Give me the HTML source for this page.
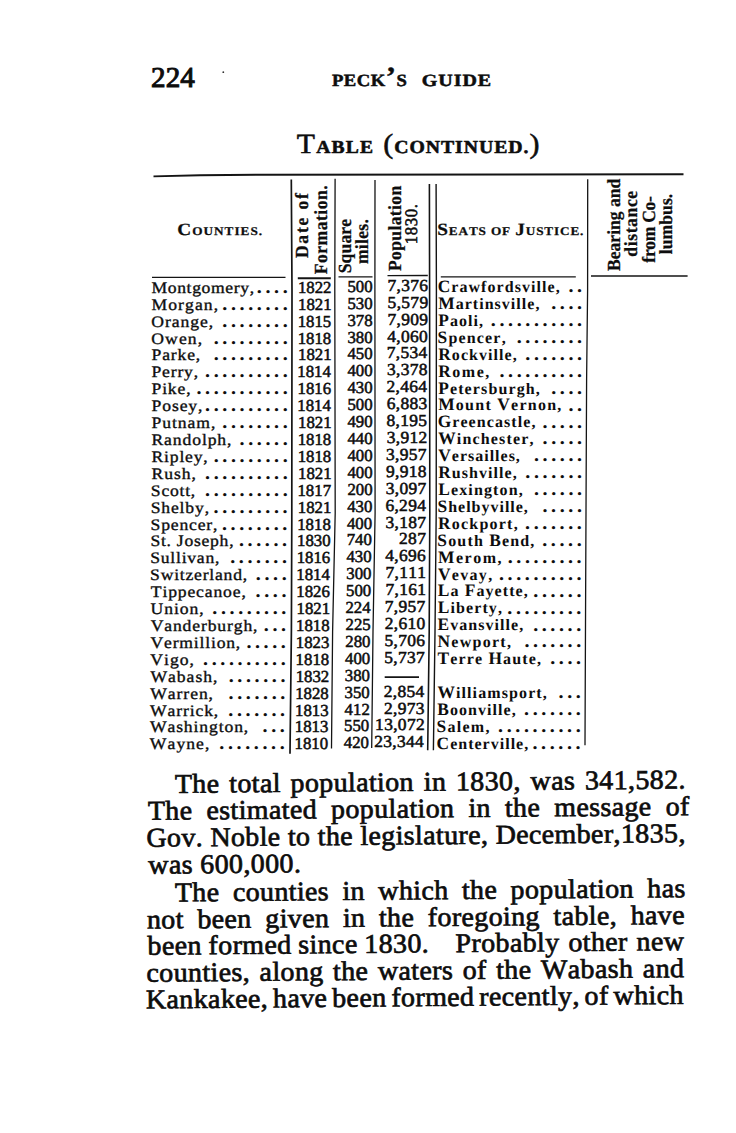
<!DOCTYPE html>
<html><head><meta charset="utf-8"><title>Peck's Guide p. 224</title>
<style>
html,body{margin:0;padding:0;background:#fff;}
body{width:736px;height:1133px;overflow:hidden;}
svg{display:block;text-rendering:geometricPrecision;}
text{font-family:"Liberation Serif","Times New Roman",serif;font-kerning:none;font-variant-ligatures:none;white-space:pre;}
</style></head><body>
<svg width="736" height="1133" viewBox="0 0 736 1133">
<rect width="736" height="1133" fill="#fff"/>
<text transform="translate(152.3 86.9) scale(1.01 1) translate(-1.27 0)" font-size="28.8" letter-spacing="0.07" stroke="#0d0d0d" stroke-width="1" fill="#0d0d0d">224</text>
<circle cx="223.3" cy="72.2" r="0.9" fill="#333"/>
<text transform="translate(332.2 86.4) scale(1.09 1) translate(-0.29 0)" letter-spacing="0.47" stroke="#0d0d0d" stroke-width="0.5" fill="#0d0d0d"><tspan font-size="17.1" font-weight="bold">PECK</tspan><tspan font-size="28" font-weight="bold">’</tspan><tspan font-size="17.1" font-weight="bold">S</tspan></text>
<text transform="translate(422.7 86.4) scale(1.17 1) translate(-0.83 0)" font-size="17.1" font-weight="bold" letter-spacing="0.83" stroke="#0d0d0d" stroke-width="0.5" fill="#0d0d0d">GUIDE</text>
<text transform="translate(297.4 152.9) scale(1.07 1) translate(-0.5 0)" letter-spacing="1.09" stroke="#0d0d0d" stroke-width="0.55" fill="#0d0d0d"><tspan font-size="27.8">T</tspan><tspan font-size="18.3" font-weight="bold">ABLE</tspan></text>
<text transform="translate(384.5 152.9) scale(1.08 1) translate(-1.22 0)" letter-spacing="0.9" stroke="#0d0d0d" stroke-width="0.55" fill="#0d0d0d"><tspan font-size="27.8">(</tspan><tspan font-size="18.3" font-weight="bold">CONTINUED.</tspan><tspan font-size="27.8">)</tspan></text>
<polyline points="153.5,176.4 200,175.3 260,174.7 683.5,174.3" fill="none" stroke="#141414" stroke-width="1.9" stroke-linejoin="round"/>
<text transform="translate(178.2 234.7) scale(1.12 1) translate(-0.84 0)" letter-spacing="0.91" stroke="#0d0d0d" stroke-width="0.25" fill="#0d0d0d"><tspan font-size="17.2" font-weight="bold">C</tspan><tspan font-size="11.8" font-weight="bold">OUNTIES.</tspan></text>
<text transform="translate(438.3 234.8) scale(1.12 1) translate(-0.92 0)" letter-spacing="0.77" stroke="#0d0d0d" stroke-width="0.25" fill="#0d0d0d"><tspan font-size="17.2" font-weight="bold">S</tspan><tspan font-size="11.8" font-weight="bold">EATS OF </tspan><tspan font-size="17.2" font-weight="bold">J</tspan><tspan font-size="11.8" font-weight="bold">USTICE.</tspan></text>
<text transform="translate(308.1 257.8) rotate(-90) scale(0.95 1) translate(-0.33 0)" font-size="18.5" font-weight="bold" letter-spacing="1.89" stroke="#0d0d0d" stroke-width="0.25" fill="#0d0d0d">Date of</text>
<text transform="translate(327 273.9) rotate(-90) scale(0.95 1) translate(-0.32 0)" font-size="18.5" font-weight="bold" letter-spacing="0.52" stroke="#0d0d0d" stroke-width="0.25" fill="#0d0d0d">Formation.</text>
<text transform="translate(351.2 272.4) rotate(-90) scale(0.95 1) translate(-0.98 0)" font-size="18.5" font-weight="bold" letter-spacing="0.14" stroke="#0d0d0d" stroke-width="0.25" fill="#0d0d0d">Square</text>
<text transform="translate(368.1 263.6) rotate(-90) scale(0.95 1) translate(-0.5 0)" font-size="18.5" font-weight="bold" letter-spacing="0.3" stroke="#0d0d0d" stroke-width="0.25" fill="#0d0d0d">miles.</text>
<text transform="translate(400.6 270.8) rotate(-90) scale(0.95 1) translate(-0.32 0)" font-size="18.5" font-weight="bold" letter-spacing="0.38" stroke="#0d0d0d" stroke-width="0.25" fill="#0d0d0d">Population</text>
<text transform="translate(416.9 242.8) rotate(-90) scale(0.95 1) translate(-1.55 0)" font-size="17.6" letter-spacing="0.7" stroke="#0d0d0d" stroke-width="0.55" fill="#0d0d0d">1830.</text>
<text transform="translate(619.8 270.7) rotate(-90) scale(0.95 1) translate(-0.31 0)" font-size="18.5" font-weight="bold" letter-spacing="0.01" stroke="#0d0d0d" stroke-width="0.25" fill="#0d0d0d">Bearing and</text>
<text transform="translate(637.2 256) rotate(-90) scale(0.95 1) translate(-0.75 0)" font-size="18.5" font-weight="bold" letter-spacing="0.65" stroke="#0d0d0d" stroke-width="0.25" fill="#0d0d0d">distance</text>
<text transform="translate(654.5 262.5) rotate(-90) scale(0.95 1) translate(-0.14 0)" font-size="18.5" font-weight="bold" letter-spacing="-0.34" stroke="#0d0d0d" stroke-width="0.25" fill="#0d0d0d">from Co-</text>
<text transform="translate(671.7 253.8) rotate(-90) scale(0.95 1) translate(-0.36 0)" font-size="18.5" font-weight="bold" letter-spacing="0.04" stroke="#0d0d0d" stroke-width="0.25" fill="#0d0d0d">lumbus.</text>
<polyline points="291.3,179.5 292,290 291.8,520 291.4,630 290,753.7" fill="none" stroke="#141414" stroke-width="1.7" stroke-linejoin="round"/>
<polyline points="335.1,178.7 334.8,290 335.2,513 332.6,632 331.5,748.5" fill="none" stroke="#141414" stroke-width="1.3" stroke-linejoin="round"/>
<polyline points="375,180 374.9,290 375.1,513 373,632 371.7,748" fill="none" stroke="#141414" stroke-width="1.3" stroke-linejoin="round"/>
<polyline points="429.4,184 429.6,290 429.8,513 429.2,632 427.7,750.3" fill="none" stroke="#141414" stroke-width="1.6" stroke-linejoin="round"/>
<polyline points="436.1,184 436.4,290 436.2,513 435,632 433.4,750.3" fill="none" stroke="#141414" stroke-width="1.4" stroke-linejoin="round"/>
<polyline points="587.7,179.3 587.6,290 586.6,380 585.6,600 585,745.2" fill="none" stroke="#141414" stroke-width="1.3" stroke-linejoin="round"/>
<polyline points="152,277.4 285.5,277.4" fill="none" stroke="#141414" stroke-width="1.2" stroke-linejoin="round"/>
<polyline points="297.8,278.3 330.8,278.3" fill="none" stroke="#141414" stroke-width="2" stroke-linejoin="round"/>
<polyline points="338.5,276.8 372.5,276.8" fill="none" stroke="#141414" stroke-width="1.3" stroke-linejoin="round"/>
<polyline points="387.5,275.6 427.8,275.5" fill="none" stroke="#141414" stroke-width="1.3" stroke-linejoin="round"/>
<polyline points="440.8,276.9 575.8,276.9" fill="none" stroke="#141414" stroke-width="1.3" stroke-linejoin="round"/>
<polyline points="591,276.1 687.6,276.1" fill="none" stroke="#141414" stroke-width="1.5" stroke-linejoin="round"/>
<text transform="translate(152 292.8) scale(1.1 1) translate(-0.46 0)" font-size="16" letter-spacing="0.57" stroke="#0d0d0d" stroke-width="0.35" fill="#0d0d0d">Montgomery,</text>
<text x="256.84 265.46 274.08 282.7" y="292.8" font-size="20" font-weight="bold" fill="#0d0d0d">....</text>
<text transform="translate(299.4 292.8) scale(1 1) translate(-1.48 0)" font-size="16.8" stroke="#0d0d0d" stroke-width="0.55" fill="#0d0d0d">1822</text>
<text transform="translate(348.42 291.8) scale(1 1) translate(-0.98 0)" font-size="16.8" stroke="#0d0d0d" stroke-width="0.55" fill="#0d0d0d">500</text>
<text transform="translate(388.71 290.8) scale(1.04 1) translate(-1.11 0)" font-size="16.8" letter-spacing="0.3" stroke="#0d0d0d" stroke-width="0.55" fill="#0d0d0d">7,376</text>
<text transform="translate(438.5 292.1) scale(1 1) translate(-0.85 0)" letter-spacing="1.06" fill="#0d0d0d"><tspan font-size="17.4" font-weight="bold">C</tspan><tspan font-size="16" font-weight="bold">rawfordsville,</tspan></text>
<text x="568.38 577" y="292.3" font-size="20" font-weight="bold" fill="#0d0d0d">..</text>
<text transform="translate(152 309.71) scale(1.1 1) translate(-0.46 0)" font-size="16" letter-spacing="0.98" stroke="#0d0d0d" stroke-width="0.35" fill="#0d0d0d">Morgan,</text>
<text x="222.36 230.98 239.6 248.22 256.84 265.46 274.08 282.7" y="309.71" font-size="20" font-weight="bold" fill="#0d0d0d">........</text>
<text transform="translate(299.49 309.71) scale(1 1) translate(-1.48 0)" font-size="16.8" stroke="#0d0d0d" stroke-width="0.55" fill="#0d0d0d">1821</text>
<text transform="translate(348.42 308.71) scale(1 1) translate(-0.98 0)" font-size="16.8" stroke="#0d0d0d" stroke-width="0.55" fill="#0d0d0d">530</text>
<text transform="translate(388.62 307.71) scale(1.04 1) translate(-0.98 0)" font-size="16.8" letter-spacing="0.3" stroke="#0d0d0d" stroke-width="0.55" fill="#0d0d0d">5,579</text>
<text transform="translate(438.5 309.01) scale(1 1) translate(-0.3 0)" letter-spacing="1.03" fill="#0d0d0d"><tspan font-size="17.4" font-weight="bold">M</tspan><tspan font-size="16" font-weight="bold">artinsville,</tspan></text>
<text x="551.14 559.76 568.38 577" y="309.21" font-size="20" font-weight="bold" fill="#0d0d0d">....</text>
<text transform="translate(152 326.62) scale(1.1 1) translate(-0.66 0)" font-size="16" letter-spacing="0.85" stroke="#0d0d0d" stroke-width="0.35" fill="#0d0d0d">Orange,</text>
<text x="222.36 230.98 239.6 248.22 256.84 265.46 274.08 282.7" y="326.62" font-size="20" font-weight="bold" fill="#0d0d0d">........</text>
<text transform="translate(299.13 326.62) scale(1 1) translate(-1.48 0)" font-size="16.8" stroke="#0d0d0d" stroke-width="0.55" fill="#0d0d0d">1815</text>
<text transform="translate(348.24 325.62) scale(1 1) translate(-0.8 0)" font-size="16.8" stroke="#0d0d0d" stroke-width="0.55" fill="#0d0d0d">378</text>
<text transform="translate(388.61 324.62) scale(1.04 1) translate(-1.11 0)" font-size="16.8" letter-spacing="0.3" stroke="#0d0d0d" stroke-width="0.55" fill="#0d0d0d">7,909</text>
<text transform="translate(438.5 325.92) scale(1 1) translate(-0.3 0)" letter-spacing="1.08" fill="#0d0d0d"><tspan font-size="17.4" font-weight="bold">P</tspan><tspan font-size="16" font-weight="bold">aoli,</tspan></text>
<text x="490.8 499.42 508.04 516.66 525.28 533.9 542.52 551.14 559.76 568.38 577" y="326.12" font-size="20" font-weight="bold" fill="#0d0d0d">...........</text>
<text transform="translate(152 343.53) scale(1.1 1) translate(-0.66 0)" font-size="16" letter-spacing="1.01" stroke="#0d0d0d" stroke-width="0.35" fill="#0d0d0d">Owen,</text>
<text x="213.74 222.36 230.98 239.6 248.22 256.84 265.46 274.08 282.7" y="343.53" font-size="20" font-weight="bold" fill="#0d0d0d">.........</text>
<text transform="translate(299.12 343.53) scale(1 1) translate(-1.48 0)" font-size="16.8" stroke="#0d0d0d" stroke-width="0.55" fill="#0d0d0d">1818</text>
<text transform="translate(348.24 342.53) scale(1 1) translate(-0.8 0)" font-size="16.8" stroke="#0d0d0d" stroke-width="0.55" fill="#0d0d0d">380</text>
<text transform="translate(387.6 341.53) scale(1.04 1) translate(-0.33 0)" font-size="16.8" letter-spacing="0.3" stroke="#0d0d0d" stroke-width="0.55" fill="#0d0d0d">4,060</text>
<text transform="translate(438.5 342.83) scale(1 1) translate(-0.93 0)" letter-spacing="1.17" fill="#0d0d0d"><tspan font-size="17.4" font-weight="bold">S</tspan><tspan font-size="16" font-weight="bold">pencer,</tspan></text>
<text x="516.66 525.28 533.9 542.52 551.14 559.76 568.38 577" y="343.03" font-size="20" font-weight="bold" fill="#0d0d0d">........</text>
<text transform="translate(152 360.44) scale(1.1 1) translate(-0.46 0)" font-size="16" letter-spacing="0.78" stroke="#0d0d0d" stroke-width="0.35" fill="#0d0d0d">Parke,</text>
<text x="213.74 222.36 230.98 239.6 248.22 256.84 265.46 274.08 282.7" y="360.44" font-size="20" font-weight="bold" fill="#0d0d0d">.........</text>
<text transform="translate(299.49 360.44) scale(1 1) translate(-1.48 0)" font-size="16.8" stroke="#0d0d0d" stroke-width="0.55" fill="#0d0d0d">1821</text>
<text transform="translate(347.77 359.44) scale(1 1) translate(-0.33 0)" font-size="16.8" stroke="#0d0d0d" stroke-width="0.55" fill="#0d0d0d">450</text>
<text transform="translate(387.87 358.44) scale(1.04 1) translate(-1.11 0)" font-size="16.8" letter-spacing="0.3" stroke="#0d0d0d" stroke-width="0.55" fill="#0d0d0d">7,534</text>
<text transform="translate(438.5 359.74) scale(1 1) translate(-0.3 0)" letter-spacing="1.06" fill="#0d0d0d"><tspan font-size="17.4" font-weight="bold">R</tspan><tspan font-size="16" font-weight="bold">ockville,</tspan></text>
<text x="525.28 533.9 542.52 551.14 559.76 568.38 577" y="359.94" font-size="20" font-weight="bold" fill="#0d0d0d">.......</text>
<text transform="translate(152 377.35) scale(1.1 1) translate(-0.46 0)" font-size="16" letter-spacing="0.74" stroke="#0d0d0d" stroke-width="0.35" fill="#0d0d0d">Perry,</text>
<text x="205.12 213.74 222.36 230.98 239.6 248.22 256.84 265.46 274.08 282.7" y="377.35" font-size="20" font-weight="bold" fill="#0d0d0d">..........</text>
<text transform="translate(298.74 377.35) scale(1 1) translate(-1.48 0)" font-size="16.8" stroke="#0d0d0d" stroke-width="0.55" fill="#0d0d0d">1814</text>
<text transform="translate(347.77 376.35) scale(1 1) translate(-0.33 0)" font-size="16.8" stroke="#0d0d0d" stroke-width="0.55" fill="#0d0d0d">400</text>
<text transform="translate(387.8 375.35) scale(1.04 1) translate(-0.8 0)" font-size="16.8" letter-spacing="0.3" stroke="#0d0d0d" stroke-width="0.55" fill="#0d0d0d">3,378</text>
<text transform="translate(438.5 376.65) scale(1 1) translate(-0.3 0)" letter-spacing="1.54" fill="#0d0d0d"><tspan font-size="17.4" font-weight="bold">R</tspan><tspan font-size="16" font-weight="bold">ome,</tspan></text>
<text x="499.42 508.04 516.66 525.28 533.9 542.52 551.14 559.76 568.38 577" y="376.85" font-size="20" font-weight="bold" fill="#0d0d0d">..........</text>
<text transform="translate(152 394.26) scale(1.1 1) translate(-0.46 0)" font-size="16" letter-spacing="0.77" stroke="#0d0d0d" stroke-width="0.35" fill="#0d0d0d">Pike,</text>
<text x="196.5 205.12 213.74 222.36 230.98 239.6 248.22 256.84 265.46 274.08 282.7" y="394.26" font-size="20" font-weight="bold" fill="#0d0d0d">...........</text>
<text transform="translate(298.98 394.26) scale(1 1) translate(-1.48 0)" font-size="16.8" stroke="#0d0d0d" stroke-width="0.55" fill="#0d0d0d">1816</text>
<text transform="translate(347.77 393.26) scale(1 1) translate(-0.33 0)" font-size="16.8" stroke="#0d0d0d" stroke-width="0.55" fill="#0d0d0d">430</text>
<text transform="translate(387.19 392.26) scale(1.04 1) translate(-0.74 0)" font-size="16.8" letter-spacing="0.3" stroke="#0d0d0d" stroke-width="0.55" fill="#0d0d0d">2,464</text>
<text transform="translate(438.5 393.56) scale(1 1) translate(-0.3 0)" letter-spacing="1.12" fill="#0d0d0d"><tspan font-size="17.4" font-weight="bold">P</tspan><tspan font-size="16" font-weight="bold">etersburgh,</tspan></text>
<text x="551.14 559.76 568.38 577" y="393.76" font-size="20" font-weight="bold" fill="#0d0d0d">....</text>
<text transform="translate(152 411.17) scale(1.1 1) translate(-0.46 0)" font-size="16" letter-spacing="0.82" stroke="#0d0d0d" stroke-width="0.35" fill="#0d0d0d">Posey,</text>
<text x="205.12 213.74 222.36 230.98 239.6 248.22 256.84 265.46 274.08 282.7" y="411.17" font-size="20" font-weight="bold" fill="#0d0d0d">..........</text>
<text transform="translate(298.74 411.17) scale(1 1) translate(-1.48 0)" font-size="16.8" stroke="#0d0d0d" stroke-width="0.55" fill="#0d0d0d">1814</text>
<text transform="translate(348.42 410.17) scale(1 1) translate(-0.98 0)" font-size="16.8" stroke="#0d0d0d" stroke-width="0.55" fill="#0d0d0d">500</text>
<text transform="translate(387.44 409.17) scale(1.04 1) translate(-0.72 0)" font-size="16.8" letter-spacing="0.3" stroke="#0d0d0d" stroke-width="0.55" fill="#0d0d0d">6,883</text>
<text transform="translate(438.5 410.47) scale(1 1) translate(-0.3 0)" letter-spacing="1.25" fill="#0d0d0d"><tspan font-size="17.4" font-weight="bold">M</tspan><tspan font-size="16" font-weight="bold">ount </tspan><tspan font-size="17.4" font-weight="bold">V</tspan><tspan font-size="16" font-weight="bold">ernon,</tspan></text>
<text x="568.38 577" y="410.67" font-size="20" font-weight="bold" fill="#0d0d0d">..</text>
<text transform="translate(152 428.08) scale(1.1 1) translate(-0.46 0)" font-size="16" letter-spacing="0.86" stroke="#0d0d0d" stroke-width="0.35" fill="#0d0d0d">Putnam,</text>
<text x="222.36 230.98 239.6 248.22 256.84 265.46 274.08 282.7" y="428.08" font-size="20" font-weight="bold" fill="#0d0d0d">........</text>
<text transform="translate(299.49 428.08) scale(1 1) translate(-1.48 0)" font-size="16.8" stroke="#0d0d0d" stroke-width="0.55" fill="#0d0d0d">1821</text>
<text transform="translate(347.77 427.08) scale(1 1) translate(-0.33 0)" font-size="16.8" stroke="#0d0d0d" stroke-width="0.55" fill="#0d0d0d">490</text>
<text transform="translate(387.2 426.08) scale(1.04 1) translate(-0.64 0)" font-size="16.8" letter-spacing="0.3" stroke="#0d0d0d" stroke-width="0.55" fill="#0d0d0d">8,195</text>
<text transform="translate(438.5 427.38) scale(1 1) translate(-0.85 0)" letter-spacing="1.08" fill="#0d0d0d"><tspan font-size="17.4" font-weight="bold">G</tspan><tspan font-size="16" font-weight="bold">reencastle,</tspan></text>
<text x="542.52 551.14 559.76 568.38 577" y="427.58" font-size="20" font-weight="bold" fill="#0d0d0d">.....</text>
<text transform="translate(152 444.99) scale(1.1 1) translate(-0.46 0)" font-size="16" letter-spacing="0.81" stroke="#0d0d0d" stroke-width="0.35" fill="#0d0d0d">Randolph,</text>
<text x="239.6 248.22 256.84 265.46 274.08 282.7" y="444.99" font-size="20" font-weight="bold" fill="#0d0d0d">......</text>
<text transform="translate(299.12 444.99) scale(1 1) translate(-1.48 0)" font-size="16.8" stroke="#0d0d0d" stroke-width="0.55" fill="#0d0d0d">1818</text>
<text transform="translate(347.77 443.99) scale(1 1) translate(-0.33 0)" font-size="16.8" stroke="#0d0d0d" stroke-width="0.55" fill="#0d0d0d">440</text>
<text transform="translate(387.51 442.99) scale(1.04 1) translate(-0.8 0)" font-size="16.8" letter-spacing="0.3" stroke="#0d0d0d" stroke-width="0.55" fill="#0d0d0d">3,912</text>
<text transform="translate(438.5 444.29) scale(1 1) translate(-0.25 0)" letter-spacing="1.16" fill="#0d0d0d"><tspan font-size="17.4" font-weight="bold">W</tspan><tspan font-size="16" font-weight="bold">inchester,</tspan></text>
<text x="542.52 551.14 559.76 568.38 577" y="444.49" font-size="20" font-weight="bold" fill="#0d0d0d">.....</text>
<text transform="translate(152 461.9) scale(1.1 1) translate(-0.46 0)" font-size="16" letter-spacing="0.75" stroke="#0d0d0d" stroke-width="0.35" fill="#0d0d0d">Ripley,</text>
<text x="213.74 222.36 230.98 239.6 248.22 256.84 265.46 274.08 282.7" y="461.9" font-size="20" font-weight="bold" fill="#0d0d0d">.........</text>
<text transform="translate(299.12 461.9) scale(1 1) translate(-1.48 0)" font-size="16.8" stroke="#0d0d0d" stroke-width="0.55" fill="#0d0d0d">1818</text>
<text transform="translate(347.77 460.9) scale(1 1) translate(-0.33 0)" font-size="16.8" stroke="#0d0d0d" stroke-width="0.55" fill="#0d0d0d">400</text>
<text transform="translate(386.9 459.9) scale(1.04 1) translate(-0.8 0)" font-size="16.8" letter-spacing="0.3" stroke="#0d0d0d" stroke-width="0.55" fill="#0d0d0d">3,957</text>
<text transform="translate(438.5 461.2) scale(1 1) translate(-0.2 0)" letter-spacing="0.99" fill="#0d0d0d"><tspan font-size="17.4" font-weight="bold">V</tspan><tspan font-size="16" font-weight="bold">ersailles,</tspan></text>
<text x="533.9 542.52 551.14 559.76 568.38 577" y="461.4" font-size="20" font-weight="bold" fill="#0d0d0d">......</text>
<text transform="translate(152 478.81) scale(1.1 1) translate(-0.46 0)" font-size="16" letter-spacing="0.89" stroke="#0d0d0d" stroke-width="0.35" fill="#0d0d0d">Rush,</text>
<text x="205.12 213.74 222.36 230.98 239.6 248.22 256.84 265.46 274.08 282.7" y="478.81" font-size="20" font-weight="bold" fill="#0d0d0d">..........</text>
<text transform="translate(299.49 478.81) scale(1 1) translate(-1.48 0)" font-size="16.8" stroke="#0d0d0d" stroke-width="0.55" fill="#0d0d0d">1821</text>
<text transform="translate(347.77 477.81) scale(1 1) translate(-0.33 0)" font-size="16.8" stroke="#0d0d0d" stroke-width="0.55" fill="#0d0d0d">400</text>
<text transform="translate(386.64 476.81) scale(1.04 1) translate(-0.54 0)" font-size="16.8" letter-spacing="0.3" stroke="#0d0d0d" stroke-width="0.55" fill="#0d0d0d">9,918</text>
<text transform="translate(438.5 478.11) scale(1 1) translate(-0.3 0)" letter-spacing="1.06" fill="#0d0d0d"><tspan font-size="17.4" font-weight="bold">R</tspan><tspan font-size="16" font-weight="bold">ushville,</tspan></text>
<text x="525.28 533.9 542.52 551.14 559.76 568.38 577" y="478.31" font-size="20" font-weight="bold" fill="#0d0d0d">.......</text>
<text transform="translate(152 495.72) scale(1.1 1) translate(-1.07 0)" font-size="16" letter-spacing="0.7" stroke="#0d0d0d" stroke-width="0.35" fill="#0d0d0d">Scott,</text>
<text x="205.12 213.74 222.36 230.98 239.6 248.22 256.84 265.46 274.08 282.7" y="495.72" font-size="20" font-weight="bold" fill="#0d0d0d">..........</text>
<text transform="translate(298.96 495.72) scale(1 1) translate(-1.48 0)" font-size="16.8" stroke="#0d0d0d" stroke-width="0.55" fill="#0d0d0d">1817</text>
<text transform="translate(348.18 494.72) scale(1 1) translate(-0.74 0)" font-size="16.8" stroke="#0d0d0d" stroke-width="0.55" fill="#0d0d0d">200</text>
<text transform="translate(386.6 493.72) scale(1.04 1) translate(-0.8 0)" font-size="16.8" letter-spacing="0.3" stroke="#0d0d0d" stroke-width="0.55" fill="#0d0d0d">3,097</text>
<text transform="translate(438.5 495.02) scale(1 1) translate(-0.3 0)" letter-spacing="1.14" fill="#0d0d0d"><tspan font-size="17.4" font-weight="bold">L</tspan><tspan font-size="16" font-weight="bold">exington,</tspan></text>
<text x="533.9 542.52 551.14 559.76 568.38 577" y="495.22" font-size="20" font-weight="bold" fill="#0d0d0d">......</text>
<text transform="translate(151.86 512.63) scale(1.1 1) translate(-1.07 0)" font-size="16" letter-spacing="0.77" stroke="#0d0d0d" stroke-width="0.35" fill="#0d0d0d">Shelby,</text>
<text x="213.54 222.16 230.78 239.4 248.02 256.64 265.26 273.88 282.5" y="512.63" font-size="20" font-weight="bold" fill="#0d0d0d">.........</text>
<text transform="translate(299.28 512.63) scale(1 1) translate(-1.48 0)" font-size="16.8" stroke="#0d0d0d" stroke-width="0.55" fill="#0d0d0d">1821</text>
<text transform="translate(347.53 511.63) scale(1 1) translate(-0.33 0)" font-size="16.8" stroke="#0d0d0d" stroke-width="0.55" fill="#0d0d0d">430</text>
<text transform="translate(386.14 510.63) scale(1.04 1) translate(-0.72 0)" font-size="16.8" letter-spacing="0.3" stroke="#0d0d0d" stroke-width="0.55" fill="#0d0d0d">6,294</text>
<text transform="translate(438.43 511.93) scale(1 1) translate(-0.93 0)" letter-spacing="0.99" fill="#0d0d0d"><tspan font-size="17.4" font-weight="bold">S</tspan><tspan font-size="16" font-weight="bold">helbyville,</tspan></text>
<text x="542.42 551.04 559.66 568.28 576.9" y="512.13" font-size="20" font-weight="bold" fill="#0d0d0d">.....</text>
<text transform="translate(151.71 529.54) scale(1.1 1) translate(-1.07 0)" font-size="16" letter-spacing="0.76" stroke="#0d0d0d" stroke-width="0.35" fill="#0d0d0d">Spencer,</text>
<text x="221.95 230.57 239.19 247.81 256.43 265.05 273.67 282.29" y="529.54" font-size="20" font-weight="bold" fill="#0d0d0d">........</text>
<text transform="translate(298.71 529.54) scale(1 1) translate(-1.48 0)" font-size="16.8" stroke="#0d0d0d" stroke-width="0.55" fill="#0d0d0d">1818</text>
<text transform="translate(347.29 528.54) scale(1 1) translate(-0.33 0)" font-size="16.8" stroke="#0d0d0d" stroke-width="0.55" fill="#0d0d0d">400</text>
<text transform="translate(386.31 527.54) scale(1.04 1) translate(-0.8 0)" font-size="16.8" letter-spacing="0.3" stroke="#0d0d0d" stroke-width="0.55" fill="#0d0d0d">3,187</text>
<text transform="translate(438.36 528.84) scale(1 1) translate(-0.3 0)" letter-spacing="1.21" fill="#0d0d0d"><tspan font-size="17.4" font-weight="bold">R</tspan><tspan font-size="16" font-weight="bold">ockport,</tspan></text>
<text x="525.09 533.71 542.33 550.95 559.57 568.19 576.81" y="529.04" font-size="20" font-weight="bold" fill="#0d0d0d">.......</text>
<text transform="translate(151.57 546.45) scale(1.1 1) translate(-1.07 0)" font-size="16" letter-spacing="0.67" stroke="#0d0d0d" stroke-width="0.35" fill="#0d0d0d">St. Joseph,</text>
<text x="238.99 247.61 256.23 264.85 273.47 282.09" y="546.45" font-size="20" font-weight="bold" fill="#0d0d0d">......</text>
<text transform="translate(298.5 546.45) scale(1 1) translate(-1.48 0)" font-size="16.8" stroke="#0d0d0d" stroke-width="0.55" fill="#0d0d0d">1830</text>
<text transform="translate(347.83 545.45) scale(1 1) translate(-1.11 0)" font-size="16.8" stroke="#0d0d0d" stroke-width="0.55" fill="#0d0d0d">740</text>
<text transform="translate(399.82 544.45) scale(1.04 1) translate(-0.74 0)" font-size="16.8" letter-spacing="0.3" stroke="#0d0d0d" stroke-width="0.55" fill="#0d0d0d">287</text>
<text transform="translate(438.28 545.75) scale(1 1) translate(-0.93 0)" letter-spacing="1.17" fill="#0d0d0d"><tspan font-size="17.4" font-weight="bold">S</tspan><tspan font-size="16" font-weight="bold">outh </tspan><tspan font-size="17.4" font-weight="bold">B</tspan><tspan font-size="16" font-weight="bold">end,</tspan></text>
<text x="542.23 550.85 559.47 568.09 576.71" y="545.95" font-size="20" font-weight="bold" fill="#0d0d0d">.....</text>
<text transform="translate(151.42 563.36) scale(1.1 1) translate(-1.07 0)" font-size="16" letter-spacing="0.69" stroke="#0d0d0d" stroke-width="0.35" fill="#0d0d0d">Sullivan,</text>
<text x="230.16 238.78 247.4 256.02 264.64 273.26 281.88" y="563.36" font-size="20" font-weight="bold" fill="#0d0d0d">.......</text>
<text transform="translate(298.16 563.36) scale(1 1) translate(-1.48 0)" font-size="16.8" stroke="#0d0d0d" stroke-width="0.55" fill="#0d0d0d">1816</text>
<text transform="translate(346.81 562.36) scale(1 1) translate(-0.33 0)" font-size="16.8" stroke="#0d0d0d" stroke-width="0.55" fill="#0d0d0d">430</text>
<text transform="translate(385.53 561.36) scale(1.04 1) translate(-0.33 0)" font-size="16.8" letter-spacing="0.3" stroke="#0d0d0d" stroke-width="0.55" fill="#0d0d0d">4,696</text>
<text transform="translate(438.21 562.66) scale(1 1) translate(-0.3 0)" letter-spacing="1.54" fill="#0d0d0d"><tspan font-size="17.4" font-weight="bold">M</tspan><tspan font-size="16" font-weight="bold">erom,</tspan></text>
<text x="507.66 516.28 524.9 533.52 542.14 550.76 559.38 568 576.62" y="562.86" font-size="20" font-weight="bold" fill="#0d0d0d">.........</text>
<text transform="translate(151.28 580.27) scale(1.1 1) translate(-1.07 0)" font-size="16" letter-spacing="0.71" stroke="#0d0d0d" stroke-width="0.35" fill="#0d0d0d">Switzerland,</text>
<text x="255.82 264.44 273.06 281.68" y="580.27" font-size="20" font-weight="bold" fill="#0d0d0d">....</text>
<text transform="translate(297.72 580.27) scale(1 1) translate(-1.48 0)" font-size="16.8" stroke="#0d0d0d" stroke-width="0.55" fill="#0d0d0d">1814</text>
<text transform="translate(347.04 579.27) scale(1 1) translate(-0.8 0)" font-size="16.8" stroke="#0d0d0d" stroke-width="0.55" fill="#0d0d0d">300</text>
<text transform="translate(386.72 578.27) scale(1.04 1) translate(-1.11 0)" font-size="16.8" letter-spacing="0.3" stroke="#0d0d0d" stroke-width="0.55" fill="#0d0d0d">7,111</text>
<text transform="translate(438.14 579.57) scale(1 1) translate(-0.2 0)" letter-spacing="1.31" fill="#0d0d0d"><tspan font-size="17.4" font-weight="bold">V</tspan><tspan font-size="16" font-weight="bold">evay,</tspan></text>
<text x="498.94 507.56 516.18 524.8 533.42 542.04 550.66 559.28 567.9 576.52" y="579.77" font-size="20" font-weight="bold" fill="#0d0d0d">..........</text>
<text transform="translate(151.14 597.18) scale(1.1 1) translate(-0.29 0)" font-size="16" letter-spacing="0.77" stroke="#0d0d0d" stroke-width="0.35" fill="#0d0d0d">Tippecanoe,</text>
<text x="255.62 264.24 272.86 281.48" y="597.18" font-size="20" font-weight="bold" fill="#0d0d0d">....</text>
<text transform="translate(297.75 597.18) scale(1 1) translate(-1.48 0)" font-size="16.8" stroke="#0d0d0d" stroke-width="0.55" fill="#0d0d0d">1826</text>
<text transform="translate(346.98 596.18) scale(1 1) translate(-0.98 0)" font-size="16.8" stroke="#0d0d0d" stroke-width="0.55" fill="#0d0d0d">500</text>
<text transform="translate(386.57 595.18) scale(1.04 1) translate(-1.11 0)" font-size="16.8" letter-spacing="0.3" stroke="#0d0d0d" stroke-width="0.55" fill="#0d0d0d">7,161</text>
<text transform="translate(438.07 596.48) scale(1 1) translate(-0.3 0)" letter-spacing="1.09" fill="#0d0d0d"><tspan font-size="17.4" font-weight="bold">L</tspan><tspan font-size="16" font-weight="bold">a </tspan><tspan font-size="17.4" font-weight="bold">F</tspan><tspan font-size="16" font-weight="bold">ayette,</tspan></text>
<text x="533.32 541.94 550.56 559.18 567.8 576.42" y="596.68" font-size="20" font-weight="bold" fill="#0d0d0d">......</text>
<text transform="translate(150.99 614.09) scale(1.1 1) translate(-0.34 0)" font-size="16" letter-spacing="0.85" stroke="#0d0d0d" stroke-width="0.35" fill="#0d0d0d">Union,</text>
<text x="212.31 220.93 229.55 238.17 246.79 255.41 264.03 272.65 281.27" y="614.09" font-size="20" font-weight="bold" fill="#0d0d0d">.........</text>
<text transform="translate(298.06 614.09) scale(1 1) translate(-1.48 0)" font-size="16.8" stroke="#0d0d0d" stroke-width="0.55" fill="#0d0d0d">1821</text>
<text transform="translate(346.12 613.09) scale(1 1) translate(-0.74 0)" font-size="16.8" stroke="#0d0d0d" stroke-width="0.55" fill="#0d0d0d">224</text>
<text transform="translate(385.88 612.09) scale(1.04 1) translate(-1.11 0)" font-size="16.8" letter-spacing="0.3" stroke="#0d0d0d" stroke-width="0.55" fill="#0d0d0d">7,957</text>
<text transform="translate(438 613.39) scale(1 1) translate(-0.3 0)" letter-spacing="1.11" fill="#0d0d0d"><tspan font-size="17.4" font-weight="bold">L</tspan><tspan font-size="16" font-weight="bold">iberty,</tspan></text>
<text x="507.37 515.99 524.61 533.23 541.85 550.47 559.09 567.71 576.33" y="613.59" font-size="20" font-weight="bold" fill="#0d0d0d">.........</text>
<text transform="translate(150.85 631) scale(1.1 1) translate(-0.18 0)" font-size="16" letter-spacing="0.79" stroke="#0d0d0d" stroke-width="0.35" fill="#0d0d0d">Vanderburgh,</text>
<text x="263.83 272.45 281.07" y="631" font-size="20" font-weight="bold" fill="#0d0d0d">...</text>
<text transform="translate(297.48 631) scale(1 1) translate(-1.48 0)" font-size="16.8" stroke="#0d0d0d" stroke-width="0.55" fill="#0d0d0d">1818</text>
<text transform="translate(346.27 630) scale(1 1) translate(-0.74 0)" font-size="16.8" stroke="#0d0d0d" stroke-width="0.55" fill="#0d0d0d">225</text>
<text transform="translate(385.51 629) scale(1.04 1) translate(-0.74 0)" font-size="16.8" letter-spacing="0.3" stroke="#0d0d0d" stroke-width="0.55" fill="#0d0d0d">2,610</text>
<text transform="translate(437.92 630.3) scale(1 1) translate(-0.3 0)" letter-spacing="1.04" fill="#0d0d0d"><tspan font-size="17.4" font-weight="bold">E</tspan><tspan font-size="16" font-weight="bold">vansville,</tspan></text>
<text x="533.13 541.75 550.37 558.99 567.61 576.23" y="630.5" font-size="20" font-weight="bold" fill="#0d0d0d">......</text>
<text transform="translate(150.7 647.91) scale(1.1 1) translate(-0.18 0)" font-size="16" letter-spacing="0.74" stroke="#0d0d0d" stroke-width="0.35" fill="#0d0d0d">Vermillion,</text>
<text x="246.38 255 263.62 272.24 280.86" y="647.91" font-size="20" font-weight="bold" fill="#0d0d0d">.....</text>
<text transform="translate(297.3 647.91) scale(1 1) translate(-1.48 0)" font-size="16.8" stroke="#0d0d0d" stroke-width="0.55" fill="#0d0d0d">1823</text>
<text transform="translate(346.02 646.91) scale(1 1) translate(-0.74 0)" font-size="16.8" stroke="#0d0d0d" stroke-width="0.55" fill="#0d0d0d">280</text>
<text transform="translate(385.46 645.91) scale(1.04 1) translate(-0.98 0)" font-size="16.8" letter-spacing="0.3" stroke="#0d0d0d" stroke-width="0.55" fill="#0d0d0d">5,706</text>
<text transform="translate(437.85 647.21) scale(1 1) translate(-0.33 0)" letter-spacing="1.27" fill="#0d0d0d"><tspan font-size="17.4" font-weight="bold">N</tspan><tspan font-size="16" font-weight="bold">ewport,</tspan></text>
<text x="524.42 533.04 541.66 550.28 558.9 567.52 576.14" y="647.41" font-size="20" font-weight="bold" fill="#0d0d0d">.......</text>
<text transform="translate(150.56 664.82) scale(1.1 1) translate(-0.18 0)" font-size="16" letter-spacing="0.87" stroke="#0d0d0d" stroke-width="0.35" fill="#0d0d0d">Vigo,</text>
<text x="203.08 211.7 220.32 228.94 237.56 246.18 254.8 263.42 272.04 280.66" y="664.82" font-size="20" font-weight="bold" fill="#0d0d0d">..........</text>
<text transform="translate(297.08 664.82) scale(1 1) translate(-1.48 0)" font-size="16.8" stroke="#0d0d0d" stroke-width="0.55" fill="#0d0d0d">1818</text>
<text transform="translate(345.37 663.82) scale(1 1) translate(-0.33 0)" font-size="16.8" stroke="#0d0d0d" stroke-width="0.55" fill="#0d0d0d">400</text>
<text transform="translate(385.3 662.82) scale(1.04 1) translate(-0.98 0)" font-size="16.8" letter-spacing="0.3" stroke="#0d0d0d" stroke-width="0.55" fill="#0d0d0d">5,737</text>
<text transform="translate(437.78 664.12) scale(1 1) translate(-0.27 0)" letter-spacing="1.15" fill="#0d0d0d"><tspan font-size="17.4" font-weight="bold">T</tspan><tspan font-size="16" font-weight="bold">erre </tspan><tspan font-size="17.4" font-weight="bold">H</tspan><tspan font-size="16" font-weight="bold">aute,</tspan></text>
<text x="550.18 558.8 567.42 576.04" y="664.32" font-size="20" font-weight="bold" fill="#0d0d0d">....</text>
<text transform="translate(150.42 681.73) scale(1.1 1) translate(-0.02 0)" font-size="16" letter-spacing="0.91" stroke="#0d0d0d" stroke-width="0.35" fill="#0d0d0d">Wabash,</text>
<text x="228.74 237.36 245.98 254.6 263.22 271.84 280.46" y="681.73" font-size="20" font-weight="bold" fill="#0d0d0d">.......</text>
<text transform="translate(297.16 681.73) scale(1 1) translate(-1.48 0)" font-size="16.8" stroke="#0d0d0d" stroke-width="0.55" fill="#0d0d0d">1832</text>
<text transform="translate(345.6 680.73) scale(1 1) translate(-0.8 0)" font-size="16.8" stroke="#0d0d0d" stroke-width="0.55" fill="#0d0d0d">380</text>
<polyline points="384.7,677.13 419,677.13" fill="none" stroke="#141414" stroke-width="1.9" stroke-linejoin="round"/>
<text transform="translate(150.27 698.64) scale(1.1 1) translate(-0.02 0)" font-size="16" letter-spacing="0.85" stroke="#0d0d0d" stroke-width="0.35" fill="#0d0d0d">Warren,</text>
<text x="228.53 237.15 245.77 254.39 263.01 271.63 280.25" y="698.64" font-size="20" font-weight="bold" fill="#0d0d0d">.......</text>
<text transform="translate(296.67 698.64) scale(1 1) translate(-1.48 0)" font-size="16.8" stroke="#0d0d0d" stroke-width="0.55" fill="#0d0d0d">1828</text>
<text transform="translate(345.36 697.64) scale(1 1) translate(-0.8 0)" font-size="16.8" stroke="#0d0d0d" stroke-width="0.55" fill="#0d0d0d">350</text>
<text transform="translate(384.53 696.64) scale(1.04 1) translate(-0.74 0)" font-size="16.8" letter-spacing="0.3" stroke="#0d0d0d" stroke-width="0.55" fill="#0d0d0d">2,854</text>
<text transform="translate(437.64 697.94) scale(1 1) translate(-0.25 0)" letter-spacing="1.11" fill="#0d0d0d"><tspan font-size="17.4" font-weight="bold">W</tspan><tspan font-size="16" font-weight="bold">illiamsport,</tspan></text>
<text x="558.61 567.23 575.85" y="698.14" font-size="20" font-weight="bold" fill="#0d0d0d">...</text>
<text transform="translate(150.13 715.55) scale(1.1 1) translate(-0.02 0)" font-size="16" letter-spacing="0.79" stroke="#0d0d0d" stroke-width="0.35" fill="#0d0d0d">Warrick,</text>
<text x="228.33 236.95 245.57 254.19 262.81 271.43 280.05" y="715.55" font-size="20" font-weight="bold" fill="#0d0d0d">.......</text>
<text transform="translate(296.48 715.55) scale(1 1) translate(-1.48 0)" font-size="16.8" stroke="#0d0d0d" stroke-width="0.55" fill="#0d0d0d">1813</text>
<text transform="translate(344.94 714.55) scale(1 1) translate(-0.33 0)" font-size="16.8" stroke="#0d0d0d" stroke-width="0.55" fill="#0d0d0d">412</text>
<text transform="translate(384.79 713.55) scale(1.04 1) translate(-0.74 0)" font-size="16.8" letter-spacing="0.3" stroke="#0d0d0d" stroke-width="0.55" fill="#0d0d0d">2,973</text>
<text transform="translate(437.56 714.85) scale(1 1) translate(-0.29 0)" letter-spacing="1.06" fill="#0d0d0d"><tspan font-size="17.4" font-weight="bold">B</tspan><tspan font-size="16" font-weight="bold">oonville,</tspan></text>
<text x="524.03 532.65 541.27 549.89 558.51 567.13 575.75" y="715.05" font-size="20" font-weight="bold" fill="#0d0d0d">.......</text>
<text transform="translate(149.98 732.46) scale(1.1 1) translate(-0.02 0)" font-size="16" letter-spacing="0.8" stroke="#0d0d0d" stroke-width="0.35" fill="#0d0d0d">Washington,</text>
<text x="262.6 271.22 279.84" y="732.46" font-size="20" font-weight="bold" fill="#0d0d0d">...</text>
<text transform="translate(296.28 732.46) scale(1 1) translate(-1.48 0)" font-size="16.8" stroke="#0d0d0d" stroke-width="0.55" fill="#0d0d0d">1813</text>
<text transform="translate(345.06 731.46) scale(1 1) translate(-0.98 0)" font-size="16.8" stroke="#0d0d0d" stroke-width="0.55" fill="#0d0d0d">550</text>
<text transform="translate(376.64 730.46) scale(1.04 1) translate(-1.48 0)" font-size="16.8" letter-spacing="0.3" stroke="#0d0d0d" stroke-width="0.55" fill="#0d0d0d">13,072</text>
<text transform="translate(437.49 731.76) scale(1 1) translate(-0.93 0)" letter-spacing="1.26" fill="#0d0d0d"><tspan font-size="17.4" font-weight="bold">S</tspan><tspan font-size="16" font-weight="bold">alem,</tspan></text>
<text x="498.08 506.7 515.32 523.94 532.56 541.18 549.8 558.42 567.04 575.66" y="731.96" font-size="20" font-weight="bold" fill="#0d0d0d">..........</text>
<text transform="translate(149.84 749.37) scale(1.1 1) translate(-0.02 0)" font-size="16" letter-spacing="0.97" stroke="#0d0d0d" stroke-width="0.35" fill="#0d0d0d">Wayne,</text>
<text x="219.3 227.92 236.54 245.16 253.78 262.4 271.02 279.64" y="749.37" font-size="20" font-weight="bold" fill="#0d0d0d">........</text>
<text transform="translate(296.06 749.37) scale(1 1) translate(-1.48 0)" font-size="16.8" stroke="#0d0d0d" stroke-width="0.55" fill="#0d0d0d">1810</text>
<text transform="translate(344.17 748.37) scale(1 1) translate(-0.33 0)" font-size="16.8" stroke="#0d0d0d" stroke-width="0.55" fill="#0d0d0d">420</text>
<text transform="translate(375.03 747.37) scale(1.04 1) translate(-0.74 0)" font-size="16.8" letter-spacing="0.3" stroke="#0d0d0d" stroke-width="0.55" fill="#0d0d0d">23,344</text>
<text transform="translate(437.42 748.67) scale(1 1) translate(-0.85 0)" letter-spacing="1.01" fill="#0d0d0d"><tspan font-size="17.4" font-weight="bold">C</tspan><tspan font-size="16" font-weight="bold">enterville,</tspan></text>
<text x="532.46 541.08 549.7 558.32 566.94 575.56" y="748.87" font-size="20" font-weight="bold" fill="#0d0d0d">......</text>
<text transform="translate(175.4 792.9) rotate(-0.49) scale(1.03 1) translate(-0.49 0)" font-size="27.2" letter-spacing="0.35" word-spacing="2.33" stroke="#0d0d0d" stroke-width="0.7" fill="#0d0d0d">The total population in 1830, was 341,582.</text>
<text transform="translate(148.4 819.8) rotate(-0.49) scale(1.03 1) translate(-0.49 0)" font-size="27.2" letter-spacing="0.35" word-spacing="6.45" stroke="#0d0d0d" stroke-width="0.7" fill="#0d0d0d">The estimated population in the message of</text>
<text transform="translate(147.6 846.7) rotate(-0.49) scale(1.03 1) translate(-1.12 0)" font-size="27.2" letter-spacing="0.35" word-spacing="-0.05" stroke="#0d0d0d" stroke-width="0.7" fill="#0d0d0d">Gov. Noble to the legislature, December,1835,</text>
<text transform="translate(148.4 873.7) rotate(-0.49) scale(1.03 1) translate(-0.03 0)" font-size="27.2" letter-spacing="0.35" stroke="#0d0d0d" stroke-width="0.7" fill="#0d0d0d">was 600,000.</text>
<text transform="translate(175.4 901.5) rotate(-0.49) scale(1.03 1) translate(-0.49 0)" font-size="27.2" letter-spacing="0.35" word-spacing="5.83" stroke="#0d0d0d" stroke-width="0.7" fill="#0d0d0d">The counties in which the population has</text>
<text transform="translate(147.6 928.6) rotate(-0.49) scale(1.03 1) translate(-0.62 0)" font-size="27.2" letter-spacing="0.35" word-spacing="6.04" stroke="#0d0d0d" stroke-width="0.7" fill="#0d0d0d">not been given in the foregoing table, have</text>
<text transform="translate(147.6 954.8) rotate(-0.49) scale(1.03 1) translate(-0 0)" font-size="27.2" letter-spacing="0.35" word-spacing="-0.64" stroke="#0d0d0d" stroke-width="0.7" fill="#0d0d0d">been formed since 1830.</text>
<text transform="translate(456.4 952.14) rotate(-0.49) scale(1.03 1) translate(-0.78 0)" font-size="27.2" letter-spacing="0.35" word-spacing="1.4" stroke="#0d0d0d" stroke-width="0.7" fill="#0d0d0d">Probably other new</text>
<text transform="translate(147.6 981.8) rotate(-0.49) scale(1.03 1) translate(-1.04 0)" font-size="27.2" letter-spacing="0.35" word-spacing="2.08" stroke="#0d0d0d" stroke-width="0.7" fill="#0d0d0d">counties, along the waters of the Wabash and</text>
<text transform="translate(146.8 1008.5) rotate(-0.49) scale(1.03 1) translate(-0.78 0)" font-size="27.2" letter-spacing="0.35" word-spacing="-2.41" stroke="#0d0d0d" stroke-width="0.7" fill="#0d0d0d">Kankakee, have been formed recently, of which</text>
</svg>
</body></html>
